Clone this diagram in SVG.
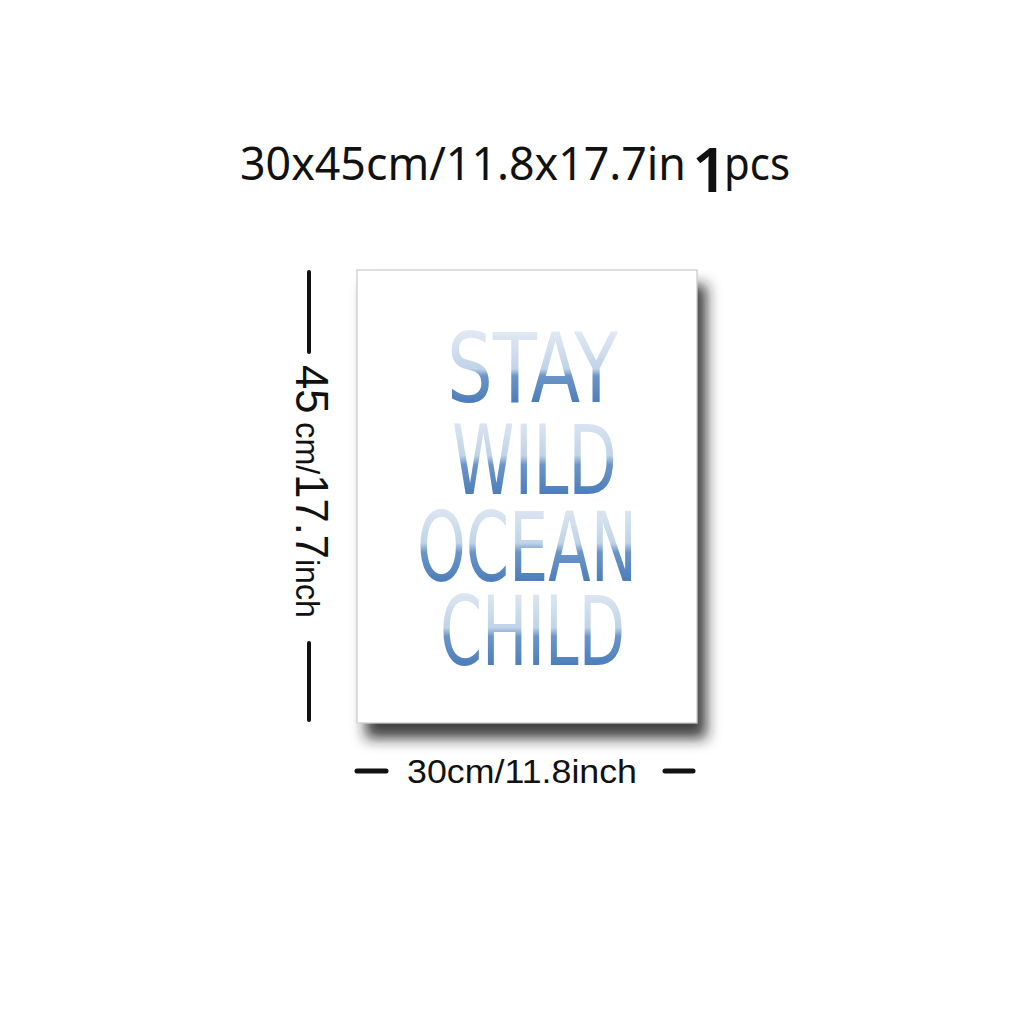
<svg xmlns="http://www.w3.org/2000/svg" width="1024" height="1024" viewBox="0 0 1024 1024">
<defs>
<filter id="sh" x="-20%" y="-20%" width="140%" height="140%">
<feDropShadow dx="9" dy="15" stdDeviation="7" flood-color="#222" flood-opacity="0.85"/>
</filter>
<linearGradient id="g1" gradientUnits="userSpaceOnUse" x1="0" y1="333" x2="0" y2="402">
<stop offset="0" stop-color="#dfe8f3"/><stop offset="0.52" stop-color="#c0d3e8"/><stop offset="0.62" stop-color="#6b95c8"/><stop offset="1" stop-color="#4d7eba"/>
</linearGradient>
<linearGradient id="g2" gradientUnits="userSpaceOnUse" x1="0" y1="417" x2="0" y2="494">
<stop offset="0" stop-color="#dfe8f3"/><stop offset="0.5" stop-color="#c0d3e8"/><stop offset="0.62" stop-color="#6b95c8"/><stop offset="1" stop-color="#4d7eba"/>
</linearGradient>
<linearGradient id="g3" gradientUnits="userSpaceOnUse" x1="0" y1="505" x2="0" y2="581">
<stop offset="0" stop-color="#dfe8f3"/><stop offset="0.5" stop-color="#c0d3e8"/><stop offset="0.62" stop-color="#6b95c8"/><stop offset="1" stop-color="#4d7eba"/>
</linearGradient>
<linearGradient id="g4" gradientUnits="userSpaceOnUse" x1="0" y1="590" x2="0" y2="665">
<stop offset="0" stop-color="#dfe8f3"/><stop offset="0.5" stop-color="#c0d3e8"/><stop offset="0.62" stop-color="#6b95c8"/><stop offset="1" stop-color="#4d7eba"/>
</linearGradient>
</defs>
<style>
.t{font-family:"Noto Sans","Open Sans",sans-serif;fill:#111}
.d{font-family:"Liberation Sans",Arial,sans-serif;fill:#111}
.p{font-family:"DejaVu Sans Condensed","DejaVu Sans",sans-serif;font-size:96px}
.ln{stroke:#111;stroke-linecap:round;fill:none}
</style>
<rect width="1024" height="1024" fill="#fff"/>
<g id="title">
<text class="t" x="240" y="180" font-size="46" textLength="446" lengthAdjust="spacingAndGlyphs">30x45cm/11.8x17.7in</text>
<text class="t" x="692" y="192" font-size="62" font-weight="600">1</text>
<text class="t" x="724" y="180" font-size="46" textLength="66" lengthAdjust="spacingAndGlyphs">pcs</text>
</g>
<g id="poster">
<rect x="357" y="270" width="340" height="453" fill="#fff" stroke="#bdbdbd" stroke-width="1" filter="url(#sh)"/>
<text class="p"><tspan x="447" y="402" fill="url(#g1)" textLength="171" lengthAdjust="spacingAndGlyphs">STAY</tspan><tspan x="452" y="494" fill="url(#g2)" textLength="165" lengthAdjust="spacingAndGlyphs">WILD</tspan><tspan x="417" y="581" fill="url(#g3)" textLength="220" lengthAdjust="spacingAndGlyphs">OCEAN</tspan><tspan x="440" y="665" fill="url(#g4)" textLength="185" lengthAdjust="spacingAndGlyphs">CHILD</tspan></text>
</g>
<g id="height-dim">
<line class="ln" x1="309" y1="272" x2="309" y2="352" stroke-width="4"/>
<line class="ln" x1="309" y1="643" x2="309" y2="720" stroke-width="4"/>
<text class="d" transform="translate(296,365) rotate(90)" font-size="34" textLength="253" lengthAdjust="spacingAndGlyphs"><tspan font-size="46">45</tspan> cm/<tspan font-size="46">17.7</tspan>inch</text>
</g>
<g id="width-dim">
<line class="ln" x1="357" y1="771" x2="386" y2="771" stroke-width="5"/>
<line class="ln" x1="665" y1="771" x2="693" y2="771" stroke-width="5"/>
<text class="d" x="407" y="783" font-size="34" textLength="230" lengthAdjust="spacingAndGlyphs">30cm/11.8inch</text>
</g>
</svg>
